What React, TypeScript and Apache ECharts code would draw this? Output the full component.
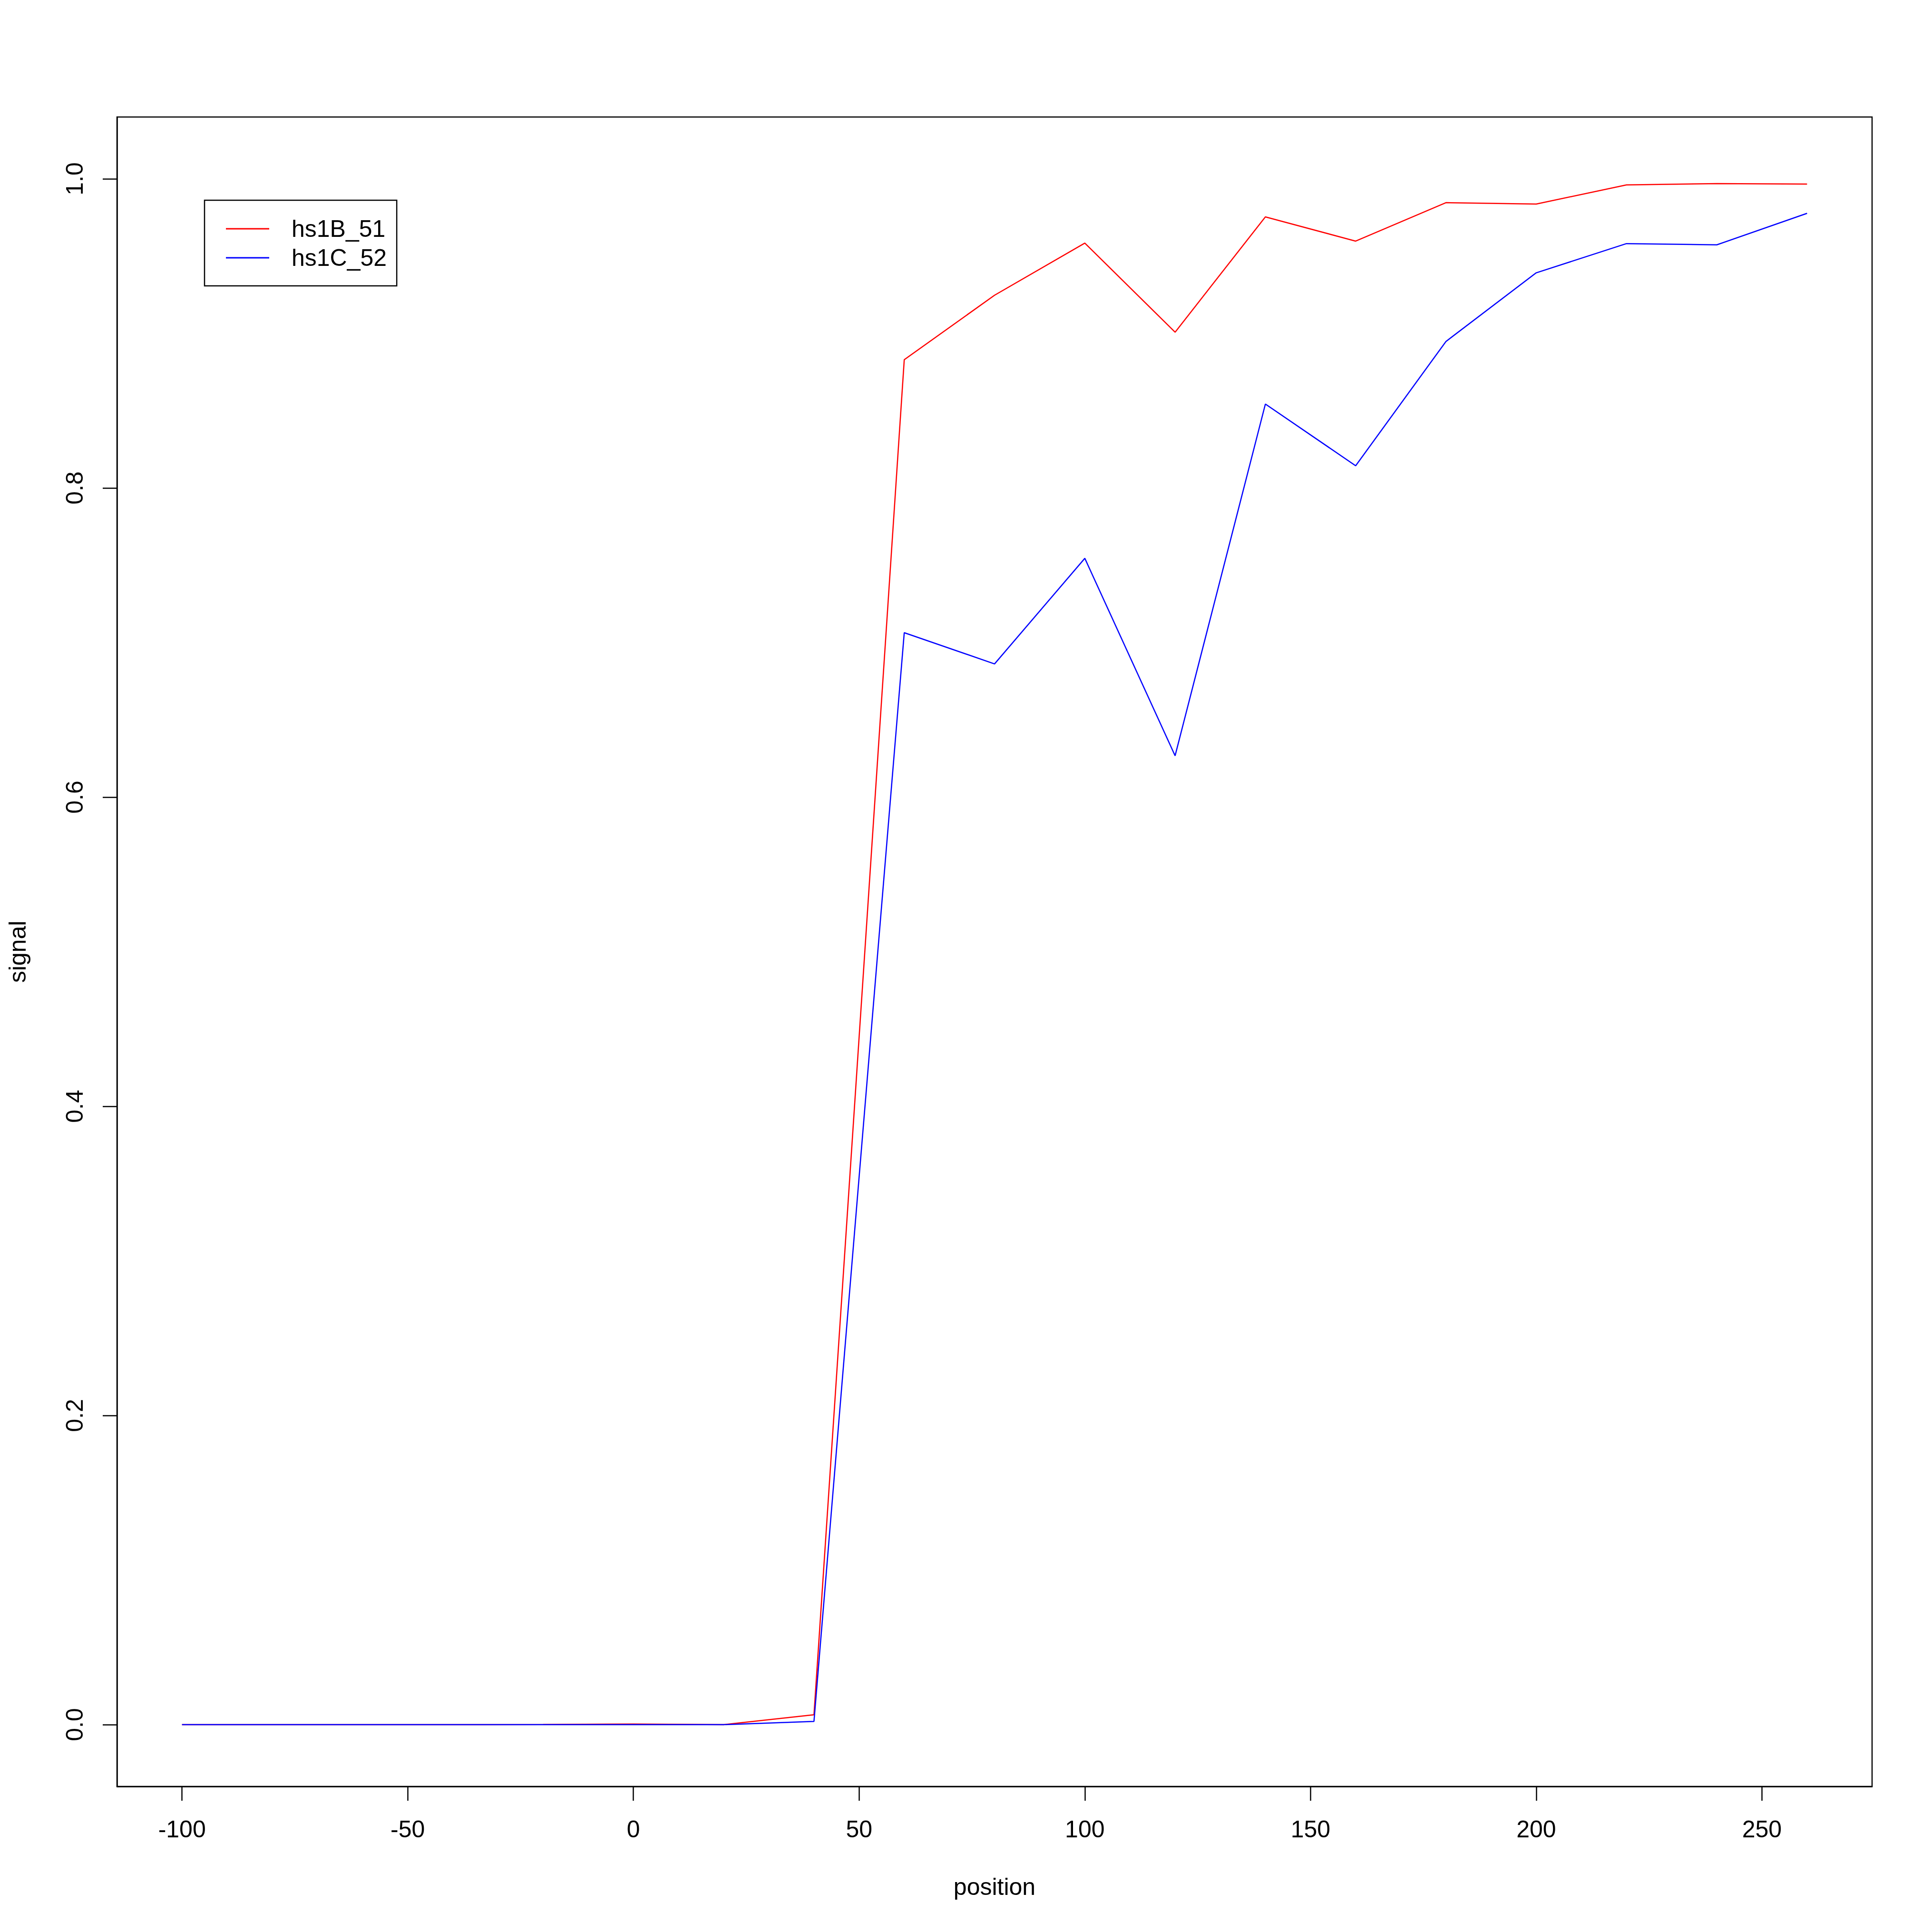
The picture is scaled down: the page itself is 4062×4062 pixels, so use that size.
import React, { useEffect, useRef } from "react";
import * as echarts from "echarts";

const positions = [-100, -80, -60, -40, -20, 0, 20, 40, 60, 80, 100, 120, 140, 160, 180, 200, 220, 240, 260];
const seriesNames = ["hs1B_51", "hs1C_52"];
const hs1B_51 = [0, 0, 0, 0, 0.0001, 0.0004, 0, 0.0064, 0.883, 0.9247, 0.9584, 0.9008, 0.9754, 0.9597, 0.9846, 0.9837, 0.9961, 0.9969, 0.9966];
const hs1C_52 = [0, 0, 0, 0, 0, 0, 0, 0.0021, 0.7064, 0.6862, 0.7545, 0.6268, 0.8543, 0.8144, 0.8948, 0.9392, 0.9581, 0.9573, 0.9777];
const seriesColors = ["#ff0000", "#0000ff"];
const xTicks = [-100, -50, 0, 50, 100, 150, 200, 250];
const yTicks = [0, 0.2, 0.4, 0.6, 0.8, 1.0];
const yLimits = [0, 1];
const xLabel = "position";
const yLabel = "signal";

export default function App() {
  const ref = useRef<HTMLDivElement>(null);
  useEffect(() => {
    document.body.style.margin = "0";
    const chart = echarts.init(ref.current!, null, { renderer: "svg" });
    const xMin = Math.min(...positions);
    const xMax = Math.max(...positions);
    const xr = xMax - xMin;
    const yr = yLimits[1] - yLimits[0];
    const font = "'Liberation Sans', Arial, Helvetica, sans-serif";
    const lw = 2.5;
    const valuesList = [hs1B_51, hs1C_52];
    chart.setOption({
      animation: false,
      backgroundColor: "#ffffff",
      textStyle: { fontFamily: font },
      grid: {
        left: 246,
        top: 246,
        right: 126,
        bottom: 306,
        show: true,
        borderColor: "#000000",
        borderWidth: lw,
        backgroundColor: "transparent",
      },
      xAxis: {
        type: "value",
        min: xMin - 0.04 * xr,
        max: xMax + 0.04 * xr,
        name: xLabel,
        nameLocation: "middle",
        nameGap: 186,
        nameTextStyle: { fontSize: 50, color: "#000000", fontFamily: font },
        axisLine: { show: true, onZero: false, lineStyle: { color: "#000000", width: lw } },
        axisTick: { show: true, length: 30, customValues: xTicks, lineStyle: { color: "#000000", width: lw } },
        axisLabel: {
          customValues: xTicks,
          margin: 65,
          fontSize: 50,
          color: "#000000",
          fontFamily: font,
          formatter: (v: number) => String(v),
        },
        splitLine: { show: false },
      },
      yAxis: {
        type: "value",
        min: yLimits[0] - 0.04 * yr,
        max: yLimits[1] + 0.04 * yr,
        name: yLabel,
        nameLocation: "middle",
        nameGap: 184,
        nameTextStyle: { fontSize: 50, color: "#000000", fontFamily: font },
        axisLine: { show: true, onZero: false, lineStyle: { color: "#000000", width: lw } },
        axisTick: { show: true, length: 30, customValues: yTicks, lineStyle: { color: "#000000", width: lw } },
        axisLabel: {
          customValues: yTicks,
          rotate: 90,
          margin: 64,
          fontSize: 50,
          color: "#000000",
          fontFamily: font,
          formatter: (v: number) => v.toFixed(1),
        },
        splitLine: { show: false },
      },
      legend: {
        orient: "vertical",
        left: 430,
        top: 421,
        padding: [35, 21, 34, 45],
        itemWidth: 91,
        itemHeight: 3,
        itemGap: 11,
        icon: "rect",
        borderColor: "#000000",
        borderWidth: lw,
        borderRadius: 0,
        backgroundColor: "#ffffff",
        selectedMode: false,
        textStyle: {
          fontSize: 50,
          lineHeight: 50,
          fontFamily: font,
          color: "#000000",
          padding: [0, 0, 0, 42],
        },
        data: seriesNames,
      },
      series: seriesNames.map((name, si) => ({
        name,
        type: "line",
        data: positions.map((x, i) => [x, valuesList[si][i]]),
        showSymbol: false,
        symbol: "none",
        silent: true,
        color: seriesColors[si],
        lineStyle: { color: seriesColors[si], width: lw },
        itemStyle: { color: seriesColors[si] },
        emphasis: { disabled: true },
      })),
    });
    return () => chart.dispose();
  }, []);
  return <div ref={ref} style={{ position: "absolute", left: 0, top: 0, width: 4062, height: 4062 }} />;
}
